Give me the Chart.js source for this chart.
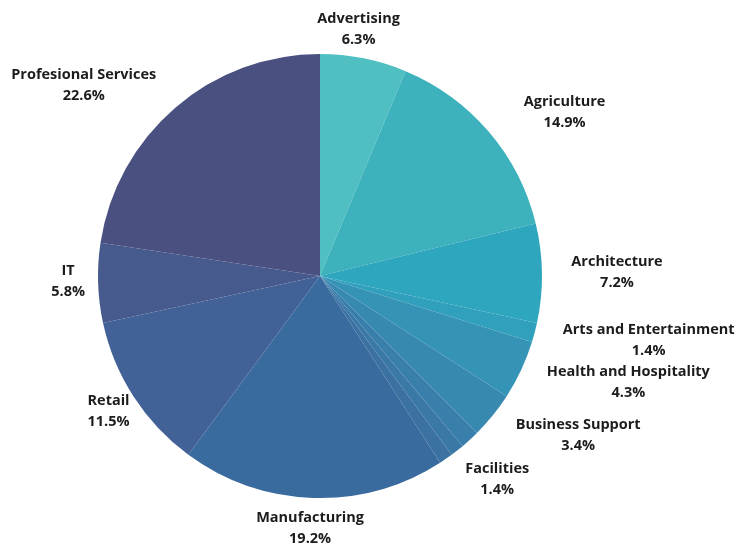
<!DOCTYPE html>
<html>
<head>
<meta charset="utf-8">
<script src="https://cdn.jsdelivr.net/npm/chart.js@4/dist/chart.umd.min.js"></script>
<style>
html,body{margin:0;padding:0;background:#fff;}
#wrap{width:750px;height:544px;position:relative;}
</style>
</head>
<body>
<div id="wrap"><canvas id="c" width="750" height="544"></canvas></div>
<script>
const categories = ["Advertising","Agriculture","Architecture","Arts and Entertainment","Health and Hospitality","Business Support","Facilities","","","Manufacturing","Retail","IT","Profesional Services"];
const values = [6.3,14.9,7.2,1.4,4.3,3.4,1.4,1.0,1.0,19.2,11.5,5.8,22.6];
const pctLabels = ["6.3%","14.9%","7.2%","1.4%","4.3%","3.4%","1.4%","","","19.2%","11.5%","5.8%","22.6%"];
const colors = ["#50BFC2","#3DB1BC","#2EA6BD","#31A0BC","#3594B6","#3889B0","#397FAB","#3A78A6","#3B72A2","#3A6B9E","#416197","#465A8D","#4A5080"];

// label nudges (style): offset from anchor placed at fixed distance along slice mid-angle
const labelNudge = [[-11,0],[53,0],[45,0],[85,0],[80,0],[62,1],[7,18],[0,0],[0,0],[-2,0],[0,-2],[0,-3],[-72,0]];

const labelPlugin = {
  id: 'outLabels',
  afterDatasetsDraw(chart) {
    const ctx = chart.ctx;
    const meta = chart.getDatasetMeta(0);
    ctx.save();
    ctx.fillStyle = '#1c1c1c';
    ctx.textAlign = 'center';
    ctx.textBaseline = 'middle';
    ctx.font = 'bold 14.5px "Open Sans", sans-serif';
    meta.data.forEach((arc, i) => {
      if (!categories[i]) return;
      const mid = (arc.startAngle + arc.endAngle) / 2;
      const r = arc.outerRadius + 30;
      const x = arc.x + Math.cos(mid) * r + labelNudge[i][0];
      const y = arc.y + Math.sin(mid) * r + labelNudge[i][1];
      ctx.fillText(categories[i], x, y - 10.5);
      ctx.fillText(pctLabels[i], x, y + 10.5);
    });
    ctx.restore();
  }
};

new Chart(document.getElementById('c'), {
  type: 'pie',
  data: {
    labels: categories,
    datasets: [{
      data: values,
      backgroundColor: colors,
      borderWidth: 0
    }]
  },
  options: {
    responsive: false,
    animation: false,
    layout: { padding: { left: 98, right: 208, top: 54, bottom: 46 } },
    plugins: { legend: { display: false }, tooltip: { enabled: false } }
  },
  plugins: [labelPlugin]
});
</script>
</body>
</html>
